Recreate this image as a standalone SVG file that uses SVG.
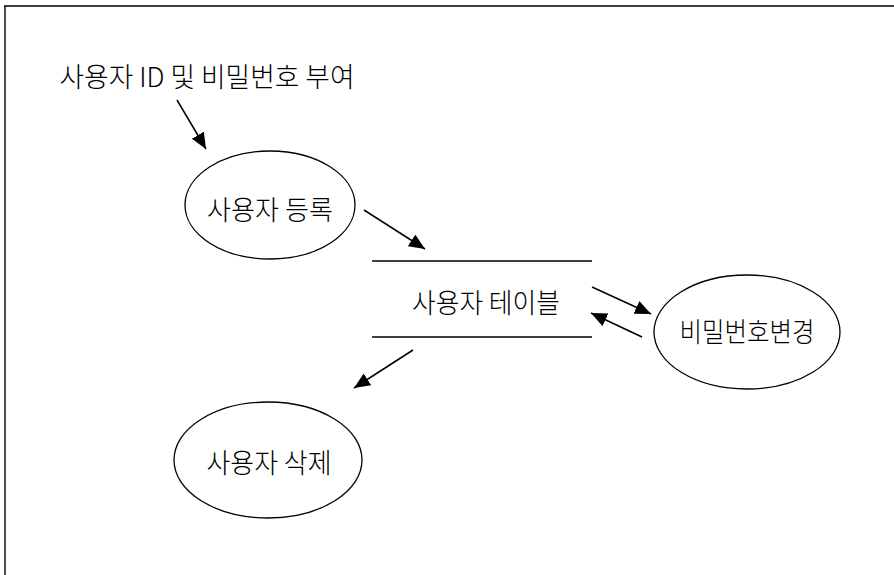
<svg xmlns="http://www.w3.org/2000/svg" width="894" height="575" viewBox="0 0 894 575">
<style>
.n{fill:none;stroke:#000;stroke-width:1.3}
.t{font-family:"Noto Sans CJK KR","Noto Sans",sans-serif;font-size:27px;font-weight:300;fill:#000;text-anchor:middle;dominant-baseline:central}
.c{stroke:#000;stroke-width:1.5;fill:none}
</style>
<defs>
<marker id="ah" markerUnits="userSpaceOnUse" markerWidth="18" markerHeight="15" refX="16" refY="7" orient="auto">
<path d="M0,0 L16,7 L0,14 Z" fill="#000"/>
</marker>
</defs>
<rect width="894" height="575" fill="#fff"/>
<g id="frame">
<line x1="4" y1="6" x2="894" y2="6" stroke="#000" stroke-width="1.6"/>
<line x1="5" y1="6" x2="5" y2="575" stroke="#000" stroke-width="1.4"/>
</g>
<g id="source">
<text class="t" x="207" y="75" textLength="295" lengthAdjust="spacingAndGlyphs">사용자 ID 및 비밀번호 부여</text>
</g>
<g id="register">
<ellipse class="n" cx="270" cy="205" rx="85" ry="54"/>
<text class="t" x="270" y="208" textLength="126" lengthAdjust="spacingAndGlyphs">사용자 등록</text>
</g>
<g id="table">
<line class="n" x1="372" y1="261" x2="592" y2="261"/>
<line class="n" x1="372" y1="337" x2="592" y2="337"/>
<text class="t" x="486" y="301" textLength="148" lengthAdjust="spacingAndGlyphs">사용자 테이블</text>
</g>
<g id="password">
<ellipse class="n" cx="747" cy="332" rx="93" ry="57"/>
<text class="t" x="747" y="330" textLength="135" lengthAdjust="spacingAndGlyphs">비밀번호변경</text>
</g>
<g id="delete">
<ellipse class="n" cx="268" cy="460" rx="94" ry="58"/>
<text class="t" x="269" y="461" textLength="125" lengthAdjust="spacingAndGlyphs">사용자 삭제</text>
</g>
<g id="connectors">
<line class="c" x1="177" y1="100" x2="206" y2="149" marker-end="url(#ah)"/>
<line class="c" x1="364" y1="210" x2="425" y2="249" marker-end="url(#ah)"/>
<line class="c" x1="592" y1="287" x2="651" y2="314" marker-end="url(#ah)"/>
<line class="c" x1="642" y1="337" x2="591" y2="313" marker-end="url(#ah)"/>
<line class="c" x1="413" y1="350" x2="354" y2="388" marker-end="url(#ah)"/>
</g>
</svg>
